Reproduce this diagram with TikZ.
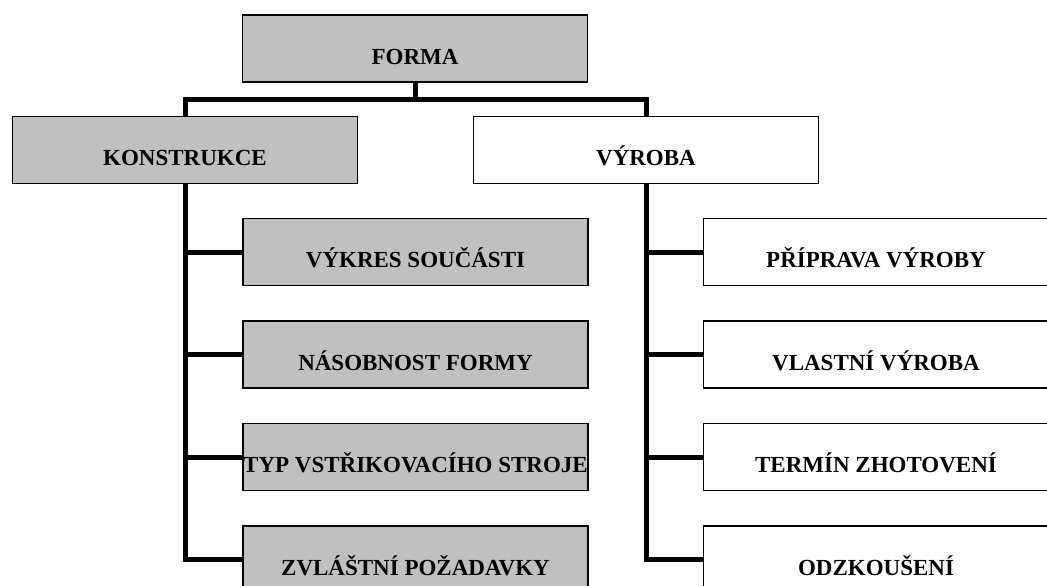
\documentclass[tikz,border=0pt]{standalone}
\usepackage{fontspec}
\setmainfont{Liberation Serif}
\usetikzlibrary{positioning}
\definecolor{boxgray}{RGB}{192,192,192}

\begin{document}
\begin{tikzpicture}[
    x=1pt, y=-1pt,
    font=\fontsize{23}{28}\selectfont\bfseries,
    box/.style={draw, line width=1.5pt, minimum height=67pt, minimum width=345pt,
                align=center, inner sep=0pt, text height=31pt, text depth=0pt},
    gr/.style={box, fill=boxgray},
    wh/.style={box, fill=white},
    trunk/.style={line width=5pt},
    node distance=34pt,
  ]
  \clip (0,0) rectangle (1047,586);

  % ---- top
  \node[gr] (forma) at (415,48.5) {FORMA};
  \node[gr] (konstr) at (185,150) {KONSTRUKCE};
  \node[wh] (vyroba) at (646,150) {VÝROBA};
  \coordinate (bar) at (415,99);

  % ---- konstrukce
  \node[gr] (vykres) at (415.5,252) {VÝKRES SOUČÁSTI};
  \node[gr, below=of vykres] (nasob) {NÁSOBNOST FORMY};
  \node[gr, below=of nasob] (typ) {TYP VSTŘIKOVACÍHO STROJE};
  \node[gr, below=of typ] (zvlast) {ZVLÁŠTNÍ POŽADAVKY};

  % ---- vyroba
  \node[wh] (priprava) at (876,252) {PŘÍPRAVA VÝROBY};
  \node[wh, below=of priprava] (vlastni) {VLASTNÍ VÝROBA};
  \node[wh, below=of vlastni] (termin) {TERMÍN ZHOTOVENÍ};
  \node[wh, below=of termin] (odzk) {ODZKOUŠENÍ};

  % ---- connectors
  \draw[trunk] (forma) -- (bar);
  \draw[trunk] (konstr.north) |- (bar) -| (vyroba.north);
  \foreach \n in {vykres, nasob, typ, zvlast}
    \draw[trunk] (konstr.south) |- (\n.west);
  \foreach \n in {priprava, vlastni, termin, odzk}
    \draw[trunk] (vyroba.south) |- (\n.west);
\end{tikzpicture}
\end{document}
